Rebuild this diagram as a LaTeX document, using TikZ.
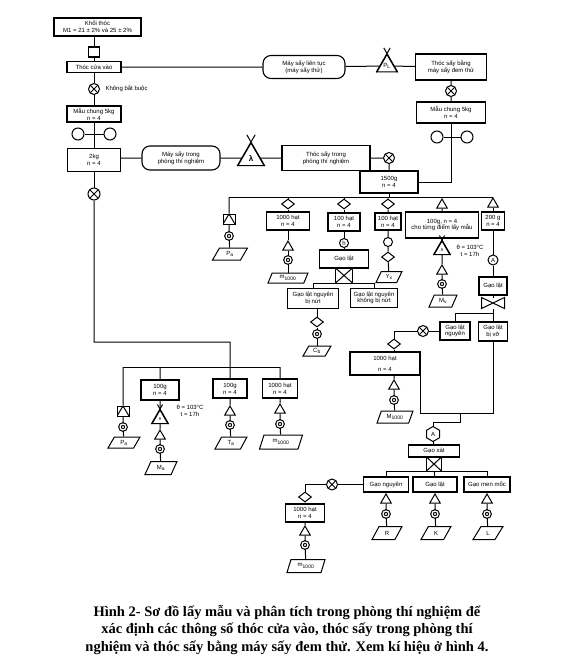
\documentclass[tikz,border=0pt]{standalone}
\usepackage{fontspec}
\newfontfamily\lbsans{Liberation Sans}
\newfontfamily\lbserif{Liberation Serif}
\usetikzlibrary{calc,positioning,shapes.geometric}
\newcommand{\chu}{\lbsans\fontsize{6}{6.8}\selectfont}

% Kiểu của các kí hiệu trong sơ đồ.
\tikzset{
  hop/.style={draw, rectangle, inner sep=1pt, align=center, line width=1.1pt},
  vien/.style={draw, rectangle, rounded corners=8pt, inner sep=1pt, align=center, line width=1.1pt},
  tron/.style={draw, circle, inner sep=0pt, minimum size=12pt},
  xtron/.style={tron, minimum size=11pt,
    path picture={\draw (path picture bounding box.north west) -- (path picture bounding box.south east)
      (path picture bounding box.north east) -- (path picture bounding box.south west);}},
  vong/.style={draw, circle, inner sep=0pt, minimum size=6pt, double, double distance=1.3pt, line width=1.1pt},
  thoi/.style={draw, diamond, inner sep=0pt, minimum width=13pt, minimum height=10pt},
  tgiac/.style={draw, regular polygon, regular polygon sides=3, inner sep=0pt, minimum size=12pt},
  xhop/.style={draw, rectangle, inner sep=0pt,
    path picture={\draw (path picture bounding box.north west) -- (path picture bounding box.south east)
      (path picture bounding box.north east) -- (path picture bounding box.south west);}},
  hoptg/.style={draw, rectangle, inner sep=0pt, minimum width=12pt, minimum height=10pt,
    path picture={\draw (path picture bounding box.south west) -- (path picture bounding box.north)
      -- (path picture bounding box.south east);}},
  van/.style={rectangle, inner sep=0pt, minimum width=22pt, minimum height=10pt},
  luc/.style={draw, regular polygon, regular polygon sides=6, shape border rotate=30, inner sep=0pt, minimum size=15pt},
  dulieu/.style={draw, trapezium, trapezium left angle=65, trapezium right angle=115,
    trapezium stretches=true, inner sep=0pt, minimum width=32pt, minimum height=11pt},
  ghichu/.style={align=center, inner sep=0pt}
}

% Tam giác có hai cạnh kéo dài qua đỉnh.
\newcommand{\tamgiacx}[1]{%
  \draw (#1.corner 2) -- ($(#1.corner 2)!1.3!(#1.corner 1)$)
        (#1.corner 3) -- ($(#1.corner 3)!1.3!(#1.corner 1)$);}
% Van hình nơ.
\newcommand{\vanno}[1]{%
  \draw (#1.south west) -- (#1.north east) -- (#1.south east) -- (#1.north west) -- cycle;}

\begin{document}
\begin{tikzpicture}[x=1pt, y=-1pt, line width=1pt, every node/.append style={font=\chu}]
\useasboundingbox (0,0) rectangle (560,656);

% Cột bên trái: khối thóc và thóc cửa vào.
\node[hop, minimum width=87pt, minimum height=18pt] (KT) at (97.5,27) {Khối thóc\\M1 = 21 ± 2\% và 25 ± 2\%};
\node[hop, minimum width=11pt, minimum height=10pt] (SQ) at (94,52) {};
\node[hop, minimum width=54pt, minimum height=11pt] (TCV) at (94,67) {Thóc cửa vào};
\node[xtron] (X1) at (94,89) {};
\node[ghichu, right=5pt of X1] (KBB) {Không bắt buộc};
\node[hop, minimum width=54pt, minimum height=16pt] (MC1) at (94,114) {Mẫu chung 5kg\\n = 4};
\node[tron] (C1) at (78,134) {};
\node[tron] (C2) at (110,134) {};
\node[hop, minimum width=53pt, minimum height=23pt] (KG) at (94,160) {2kg\\n = 4};
\node[xtron, minimum size=12pt] (X2) at (94,194) {};

\draw (SQ) -- (SQ |- KT.south);
\draw (SQ) -- (TCV) -- (X1) -- (MC1) -- (KG) -- (X2);
\draw (C1) -- (C2);

% Máy sấy đem thử.
\node[vien, minimum width=82pt, minimum height=23pt] (MST) at (304,67) {Máy sấy liên tục\\(máy sấy thử)};
\node[tgiac, minimum size=23pt] (TP) at (387,66) {P\textsubscript{L}};
\node[hop, minimum width=71pt, minimum height=26pt] (TSB) at (451,67) {Thóc sấy bằng\\máy sấy đem thử};
\node[xtron] (X3) at (451,91) {};
\node[hop, minimum width=69pt, minimum height=21pt] (MC2) at (451,112.5) {Mẫu chung 5kg\\n = 4};
\node[tron] (C3) at (437,137) {};
\node[tron] (C4) at (467,137) {};
\tamgiacx{TP}

\draw (TCV) -- (MST) -- (TP) -- (TSB) -- (X3) -- (MC2);
\draw (C3) -- (C4);

% Máy sấy trong phòng thí nghiệm.
\node[vien, minimum width=78pt, minimum height=24pt] (MSN) at (181,158) {Máy sấy trong\\phòng thí nghiệm};
\node[tgiac, minimum size=30pt, font=\lbsans\bfseries\fontsize{8}{8}\selectfont] (TL) at (251,158) {λ};
\node[hop, minimum width=88pt, minimum height=25pt] (TST) at (326,158) {Thóc sấy trong\\phòng thí nghiệm};
\node[xtron] (X4) at (389,158) {};
\node[hop, minimum width=58pt, minimum height=22pt] (B15) at (389,182) {1500g\\n = 4};
\tamgiacx{TL}

\draw (KG.east |- MSN) -- (MSN) -- (TL) -- (TST) -- (X4) -- (B15);
\draw (MC2) |- (B15);

% Các nhánh phân tích của mẫu 1500g.
\coordinate (N1) at (229,197);
\coordinate (N6) at (493,197);
\draw (B15) -- (B15 |- N1);
\draw (N1) -- (N6);

\node[hoptg] (HT1) at (229,219) {};
\node[vong] (R1) at (229,236) {};
\node[dulieu, minimum width=35pt, minimum height=12pt] (P1) at (230,254) {P\textsubscript{a}};
\draw (N1) -- (HT1) -- (R1) -- (P1);

\node[thoi] (D2) at (288,204) {};
\node[hop, minimum width=43pt, minimum height=18pt] (B1a) at (288,221) {1000 hạt\\n = 4};
\node[tgiac] (T2) at (288,247) {};
\node[vong] (R2) at (288,260) {};
\node[dulieu, minimum width=40pt, minimum height=10pt] (P2) at (288,278) {m\textsubscript{1000}};
\draw (D2 |- N1) -- (D2) -- (B1a) -- (T2) -- (R2) -- (P2);

\node[thoi] (D3) at (344,204) {};
\node[hop, minimum width=32pt, minimum height=18pt] (B1b) at (344,222) {100 hạt\\n = 4};
\node[tron, minimum size=9pt] (H3) at (344,243) {h};
\node[hop, minimum width=49pt, minimum height=18pt] (GL1) at (344,259) {Gạo lật};
\node[xhop, minimum width=17pt, minimum height=15pt] (XB1) at (344,275.5) {};
\node[hop, minimum width=51pt, minimum height=20pt] (GN1) at (313,298.5) {Gạo lật nguyên\\bị nứt};
\node[hop, minimum width=47pt, minimum height=19pt] (GN2) at (374,298) {Gạo lật nguyên\\không bị nứt};
\node[thoi] (D3b) at (317,322) {};
\node[vong] (R3) at (317,334) {};
\node[dulieu, minimum width=28pt, minimum height=10pt] (P3) at (317,351) {C\textsubscript{b}};
\coordinate (L1) at (314,283);
\coordinate (L2) at (363,283);
\draw (D3 |- N1) -- (D3) -- (B1b) -- (H3) -- (GL1) -- (XB1) -- (XB1 |- L1);
\draw (L1 -| GN1.north) -- (L2 -| GN2.north);
\draw (L1 -| GN1.north) -- (GN1.north);
\draw (L2 -| GN2.north) -- (GN2.north);
\draw (GN1.south -| D3b) -- (D3b) -- (R3) -- (P3);

\node[thoi] (D4) at (388,204) {};
\node[hop, minimum width=26pt, minimum height=17pt] (B1c) at (388,221.5) {100 hạt\\n = 4};
\node[tron, minimum size=9pt] (C5) at (388,242) {};
\node[thoi] (D4b) at (388,257) {};
\node[dulieu, minimum width=26pt, minimum height=11pt] (P4) at (389,277) {Y\textsubscript{x}};
\draw (D4 |- N1) -- (D4) -- (B1c) -- (C5) -- (D4b) -- (P4);

\node[tgiac] (T5) at (442,205) {};
\node[hop, minimum width=73pt, minimum height=26pt] (B1d) at (442,225) {100g, n = 4\\cho từng điểm lấy mẫu};
\node[tgiac, minimum size=18pt, font=\lbsans\fontsize{4}{4}\selectfont] (TX5) at (442,250) {θ};
\node[ghichu, anchor=west] (GC5) at (456,251) {θ = 103°C\\t = 17h};
\node[tgiac] (T5b) at (442,271) {};
\node[vong] (R5) at (442,284) {};
\node[dulieu, minimum width=28pt, minimum height=12pt] (P5) at (443,301) {M\textsubscript{v}};
\tamgiacx{TX5}
\draw (T5 |- N1) -- (T5) -- (B1d) -- (TX5) -- (T5b) -- (R5) -- (P5);

\node[tgiac] (T6) at (493,204) {};
\node[hop, minimum width=23pt, minimum height=18pt] (B2) at (493,221) {200 g\\n = 4};
\node[tron, minimum size=10pt] (CA) at (493,260) {A};
\node[hop, minimum width=28pt, minimum height=18pt] (GL2) at (493,286) {Gạo lật};
\node[van] (V6) at (493,303) {};
\node[hop, minimum width=30pt, minimum height=18pt] (GN3) at (455,331) {Gạo lật\\nguyên};
\node[hop, minimum width=29pt, minimum height=19pt] (GV) at (493,331.5) {Gạo lật\\bị vỡ};
\vanno{V6}
\coordinate (Q1) at (455,313);
\coordinate (Q2) at (493,313);
\draw (T6 |- N1) -- (T6) -- (B2) -- (CA) -- (GL2) -- (V6) -- (GV);
\draw (Q2) -- (Q1) -- (GN3);

% Gạo lật nguyên: khối lượng 1000 hạt.
\node[xtron] (X6) at (423,331) {};
\node[thoi] (D6) at (394,344) {};
\node[hop, minimum width=70pt, minimum height=23pt] (B1e) at (385,363.5) {1000 hạt\\[4pt]n = 4};
\node[tgiac] (T6b) at (394,386) {};
\node[vong] (R6) at (394,400) {};
\node[dulieu, minimum width=36pt, minimum height=12pt] (P6) at (395,417) {M\textsubscript{1000}};
\draw (GN3) -- (X6) -| (D6);
\draw (D6) -- (D6 |- B1e.north);
\draw (B1e.south -| T6b) -- (T6b) -- (R6) -- (P6);

% Xát gạo.
\coordinate (JR) at (493,413);
\coordinate (JM) at (460,413);
\node[luc] (HX) at (433,434) {A};
\node[hop, minimum width=51pt, minimum height=12pt] (GX) at (434,451) {Gạo xát};
\node[xhop, minimum width=15pt, minimum height=14pt] (XB2) at (434,464) {};
\draw (B1e.south east) |- (JR) -- (GV);
\draw (JM) -- ++(0,9) -| (HX);
\draw (HX) -- (GX) -- (XB2);

\coordinate (K1) at (386,471);
\coordinate (K3) at (487,471);
\draw (K1) -- (K3);
\node[hop, minimum width=45pt, minimum height=15pt] (GNg) at (386,484.5) {Gạo nguyên};
\node[hop, minimum width=44pt, minimum height=15pt] (GLt) at (435,484.5) {Gạo lật};
\node[hop, minimum width=46pt, minimum height=15pt] (GMm) at (487,484.5) {Gạo men mốc};
\draw (K1) -- (GNg);
\draw (XB2) -- (GLt);
\draw (K3) -- (GMm);

\foreach \ten/\x/\nhan in {GNg/386/R, GLt/435/K, GMm/487/L}{
  \node[tgiac] (T\ten) at (\x,500) {};
  \node[vong] (R\ten) at (\x,514) {};
  \node[dulieu, minimum width=30pt, minimum height=13pt] (P\ten) at (\x+1,533) {\nhan};
  \draw (\ten) -- (T\ten) -- (R\ten) -- (P\ten);
}

\node[xtron] (X7) at (332,484.5) {};
\node[thoi] (D7) at (305,497) {};
\node[hop, minimum width=39pt, minimum height=18pt] (B1f) at (305,513) {1000 hạt\\n = 4};
\node[tgiac] (T7) at (305,532) {};
\node[vong] (R7) at (305,545) {};
\node[dulieu, minimum width=38pt, minimum height=13pt] (P7) at (306,566) {m\textsubscript{1000}};
\draw (GNg) -- (X7) -| (D7);
\draw (D7) -- (B1f) -- (T7) -- (R7) -- (P7);

% Các nhánh phân tích của mẫu 2kg.
\coordinate (J1) at (230,342);
\coordinate (M1) at (123,367);
\coordinate (M4) at (280,367);
\draw (M1) -- (M4);

\node[hoptg] (HT2) at (123,411) {};
\node[vong] (R8) at (123,427) {};
\node[dulieu, minimum width=32pt, minimum height=11pt] (P8) at (124,442.5) {P\textsubscript{a}};
\draw (M1) -- (HT2) -- (R8) -- (P8);

\node[hop, minimum width=38pt, minimum height=20pt] (B1g) at (160,390) {100g\\n = 4};
\node[tgiac, minimum size=18pt, font=\lbsans\fontsize{4}{4}\selectfont] (TX8) at (160,419) {θ};
\node[ghichu, anchor=west] (GC8) at (176,411) {θ = 103°C\\t = 17h};
\node[tgiac] (T8) at (160,436) {};
\node[vong] (R9) at (160,449) {};
\node[dulieu, minimum width=32pt, minimum height=13pt] (P9) at (161,468) {M\textsubscript{a}};
\tamgiacx{TX8}
\draw (B1g |- M1) -- (B1g) -- (TX8) -- (T8) -- (R9) -- (P9);

\node[hop, minimum width=34pt, minimum height=19pt] (B1h) at (230,388.5) {100g\\n = 4};
\node[tgiac] (T10) at (230,412) {};
\node[vong] (R10) at (230,425) {};
\node[dulieu, minimum width=32pt, minimum height=12pt] (P10) at (231,443) {T\textsubscript{a}};
\draw (X2) |- (J1) -- (B1h) -- (T10) -- (R10) -- (P10);

\node[hop, minimum width=35pt, minimum height=19pt] (B1i) at (280,388.5) {1000 hạt\\n = 4};
\node[tgiac] (T11) at (280,410) {};
\node[vong] (R11) at (280,424) {};
\node[dulieu, minimum width=43pt, minimum height=14pt] (P11) at (281,442) {m\textsubscript{1000}};
\draw (M4) -- (B1i) -- (T11) -- (R11) -- (P11);

% Chú thích hình.
\node[font=\lbserif\bfseries\fontsize{14.5}{17.5}\selectfont, align=center] (CAP) at (287,630)
  {Hình 2- Sơ đồ lấy mẫu và phân tích trong phòng thí nghiệm để\\
   xác định các thông số thóc cửa vào, thóc sấy trong phòng thí\\
   nghiệm và thóc sấy bằng máy sấy đem thử. Xem kí hiệu ở hình 4.};
\end{tikzpicture}
\end{document}
